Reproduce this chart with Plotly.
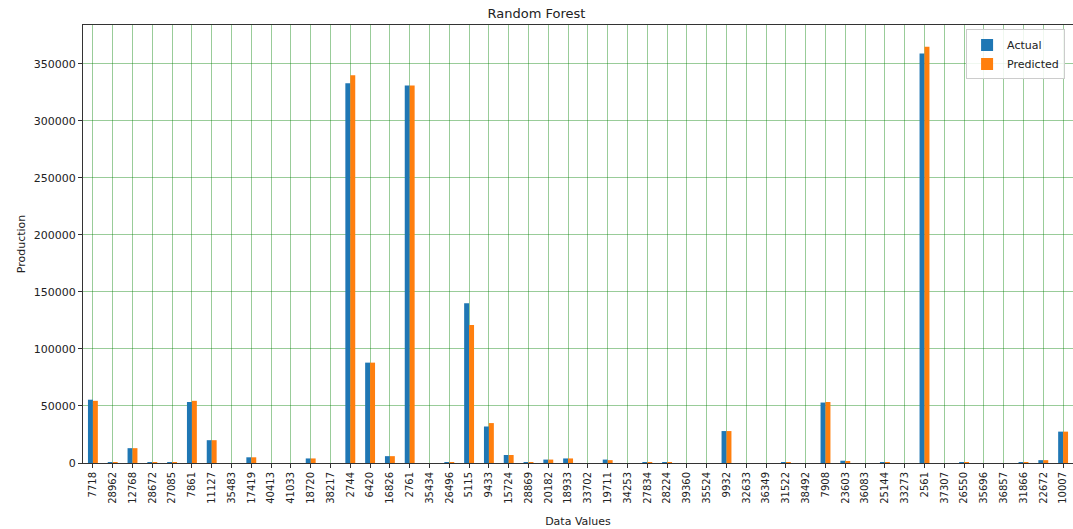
import plotly.graph_objects as go

categories = ["7718", "28962", "12768", "28672", "27085", "7861", "11127", "35483", "17419", "40413",
              "41033", "18720", "38217", "2744", "6420", "16826", "2761", "35434", "26496", "5115",
              "9433", "15724", "28869", "20182", "18933", "33702", "19711", "34253", "27834", "28224",
              "39360", "35524", "9932", "32633", "36349", "31522", "38492", "7908", "23603", "36083",
              "25144", "33273", "2561", "37307", "26550", "35696", "36857", "31866", "22672", "10007"]

actual = [55500, 800, 13000, 500, 500, 53500, 20000, 0, 5000, 0,
          0, 4000, 0, 333000, 88000, 6000, 331000, 0, 500, 140000,
          32000, 7000, 800, 3000, 4000, 0, 3000, 0, 500, 800,
          0, 0, 28000, 0, 0, 800, 0, 53000, 2000, 0,
          800, 0, 359000, 0, 700, 0, 0, 700, 2500, 27500]

predicted = [54500, 500, 13000, 500, 400, 54500, 20000, 0, 5000, 0,
             0, 4000, 0, 340000, 88000, 6000, 331000, 0, 800, 121000,
             35000, 7000, 800, 3000, 4000, 0, 2500, 0, 500, 800,
             0, 0, 28000, 0, 0, 600, 0, 53500, 1500, 0,
             600, 0, 365000, 0, 500, 0, 0, 600, 2500, 27500]

y_ticks = [0, 50000, 100000, 150000, 200000, 250000, 300000, 350000]

font = "DejaVu Sans"
fig = go.Figure()
fig.add_trace(go.Bar(x=categories, y=actual, name="Actual", marker=dict(color="#1f77b4", line=dict(width=0))))
fig.add_trace(go.Bar(x=categories, y=predicted, name="Predicted", marker=dict(color="#ff7f0e", line=dict(width=0))))

fig.update_layout(
    width=1073, height=529,
    margin=dict(l=83, r=0, t=25, b=66, autoexpand=False),
    paper_bgcolor="white", plot_bgcolor="white",
    barmode="group", bargap=0.5, bargroupgap=0,
    font=dict(family=font, size=11, color="#222"),
    title=dict(text="Random Forest", x=0.5, xanchor="center", y=0.974, yanchor="middle",
               font=dict(family=font, size=13, color="#222")),
    legend=dict(x=0.992, y=0.99, xanchor="right", yanchor="top", bgcolor="rgba(255,255,255,0.85)",
                bordercolor="#cccccc", borderwidth=1, font=dict(family=font, size=11),
                tracegroupgap=0),
    xaxis=dict(type="category", automargin=False,
               title=dict(text="Data Values", font=dict(size=11), standoff=14),
               tickangle=-90, showgrid=True, gridcolor="rgba(0,128,0,0.4)", gridwidth=1,
               showline=True, linecolor="#333", linewidth=1, mirror=True,
               ticks="outside", ticklen=4, tickcolor="#333", tickfont=dict(size=10),
               range=[-0.5, len(categories) - 0.5]),
    yaxis=dict(automargin=False, title=dict(text="Production", font=dict(size=11), standoff=5),
               range=[0, 384000], tickvals=y_ticks, tickformat="d",
               showgrid=True, gridcolor="rgba(0,128,0,0.4)", gridwidth=1,
               showline=True, linecolor="#333", linewidth=1, mirror=True, zeroline=False,
               ticks="outside", ticklen=4, tickcolor="#333", tickfont=dict(size=11)),
)

fig.write_html("out.html", config={"displayModeBar": False},
               post_script="document.body.style.margin='0px';document.body.style.overflow='hidden';")
